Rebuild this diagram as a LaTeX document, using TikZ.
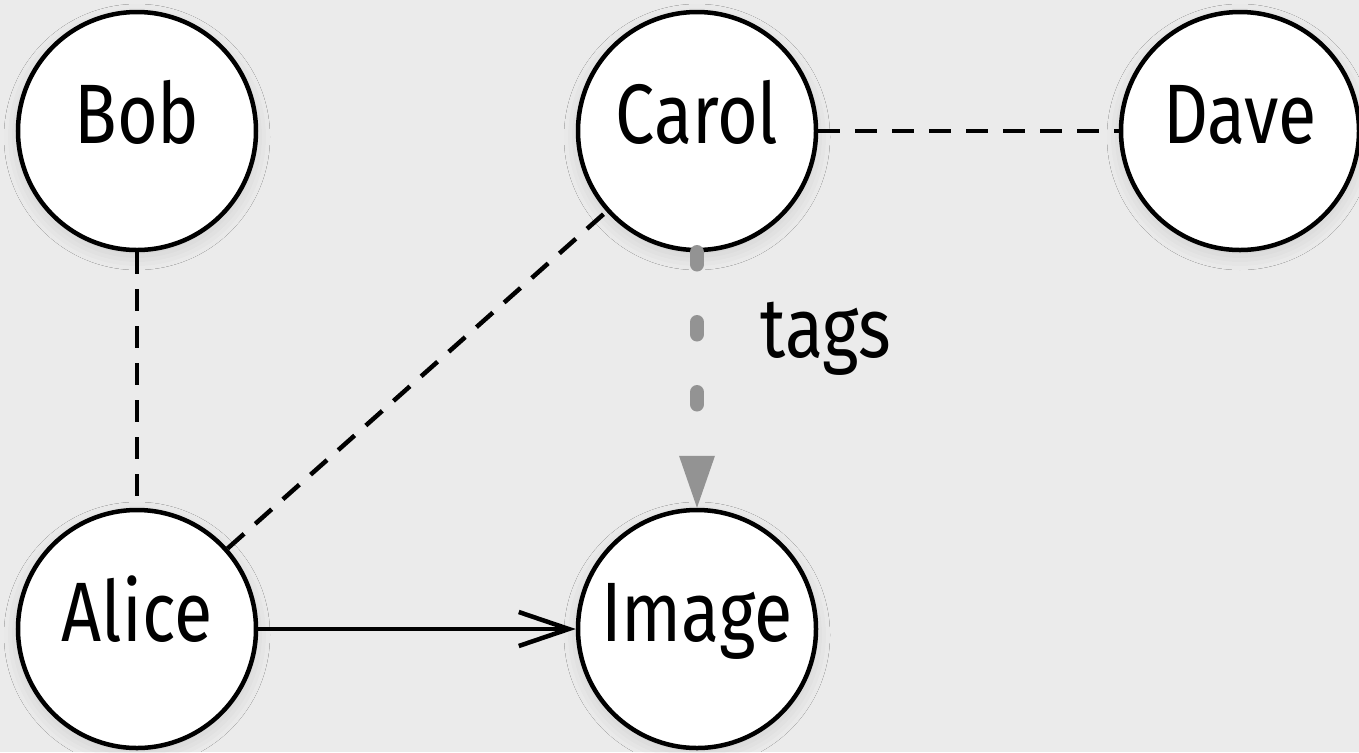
\documentclass[tikz,border=0pt]{standalone}
\usepackage{fontspec}
\setmainfont{Fira Sans}[FakeStretch=0.83]
\usepackage{xcolor}
\usepackage{tikz}
\usetikzlibrary{positioning,arrows.meta,shadows.blur}
\definecolor{canvas}{HTML}{EBEBEB}
\definecolor{taggray}{HTML}{939393}

\begin{document}
\begin{tikzpicture}[
  node distance=4.98cm and 5.6cm, on grid,
  person/.style={draw, circle, fill=white, line width=0.45mm, inner sep=0pt,
                 minimum size=2.38cm, text height=6mm, text depth=3.6mm,
                 font=\fontsize{24}{28}\selectfont,
                 blur shadow={shadow xshift=0pt, shadow yshift=-0.6mm,
                              shadow blur radius=1.4mm, shadow opacity=12}},
  knows/.style={draw, line width=0.45mm, dash pattern=on 2.2mm off 1.5mm},
  owns/.style={draw, line width=0.45mm,
               -{Straight Barb[length=5mm, width=3.4mm]}},
  tagline/.style={draw=taggray, line width=1.45mm, line cap=round,
                  dash pattern=on 1.2mm off 5.8mm,
                  -{Triangle[length=5.2mm, width=3.6mm, line width=0pt]}},
  tagtext/.style={inner sep=0pt, font=\fontsize{24}{28}\selectfont}
]
\useasboundingbox (0,0) rectangle (13.59,7.52);
\fill[canvas] (0,0) rectangle (13.59,7.52);
\node[person] (bob) at (1.37,6.21) {Bob};
\node[person, right=of bob] (carol) {Carol};
\node[person, right=5.43cm of carol] (dave) {Dave};
\node[person, below=of bob] (alice) {Alice};
\node[person, right=of alice] (image) {Image};
\path[knows] (bob) -- (alice);
\path[knows] (alice) -- (carol);
\path[knows] (carol) -- (dave);
\path[owns] (alice) -- (image);
\path[tagline] (carol) -- node[tagtext, pos=0.41, anchor=base west, xshift=5.6mm] {tags} (image);
\end{tikzpicture}
\end{document}
